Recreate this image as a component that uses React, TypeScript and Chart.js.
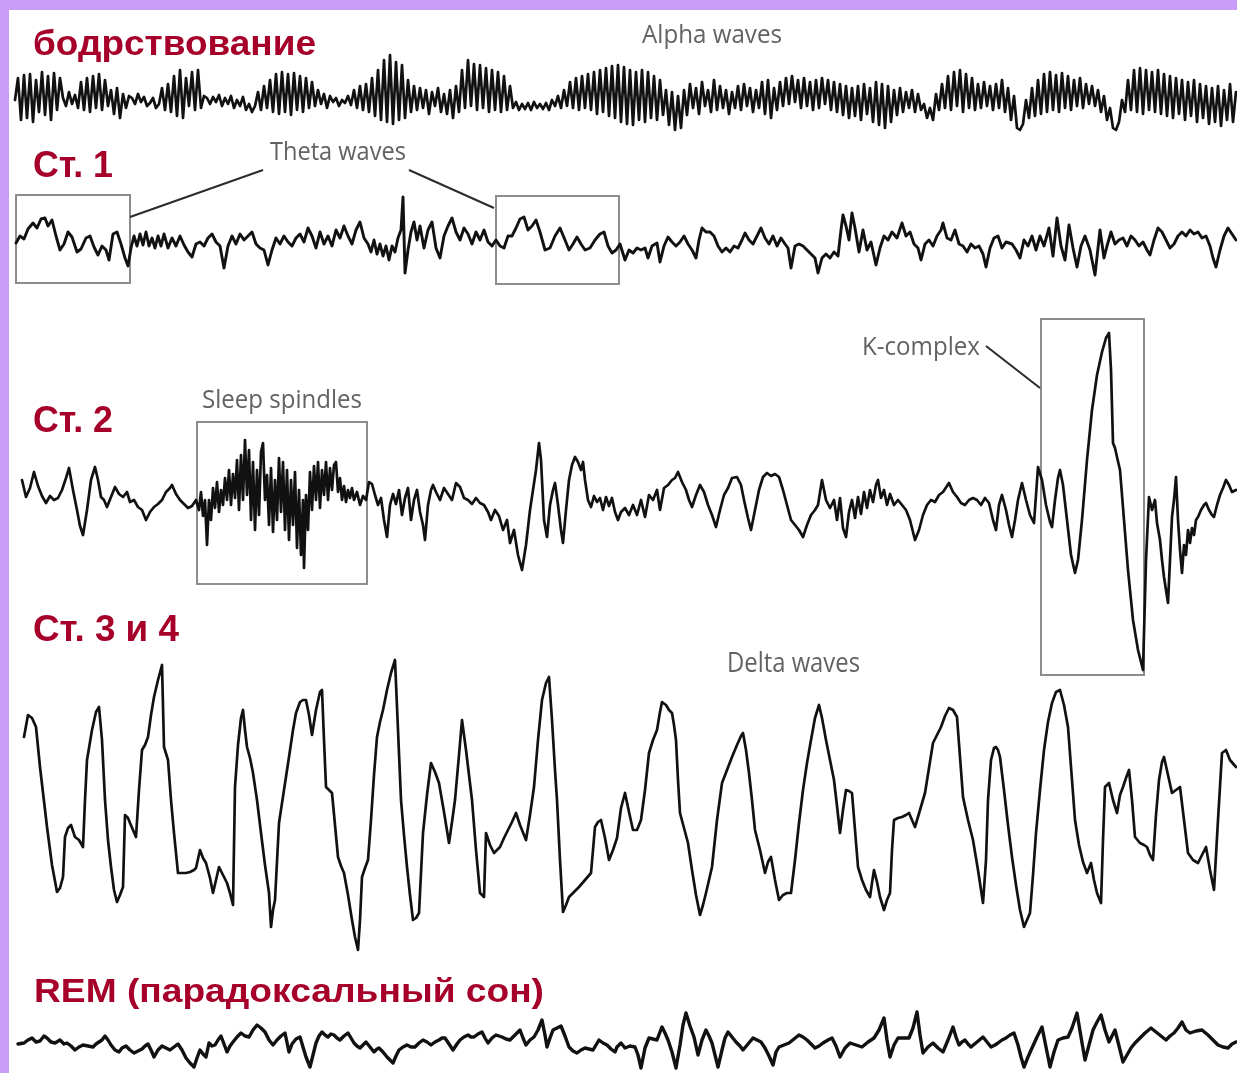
import React, { useEffect, useRef } from "react";
import { Chart, registerables } from "chart.js";

Chart.register(...registerables);

const W = 1237;
const H = 1073;

// ---- EEG traces (time in sample units, amplitude: positive = upward deflection) ----
const ALPHA_T0 = 15;
const ALPHA_DT = 3;
const ALPHA: number[] = [
  0, 22, -20, 25, -18, 26, -22, 20, -12, 28, -15, 24, -20, 27, -10, 22,
  2, -6, 8, -4, 5, -8, 18, -10, 22, -12, 24, -8, 26, -10, 20, -6,
  10, -14, 12, -18, 6, -8, 4, 2, -4, 6, -2, 3, -6, -3, 2, -8,
  -4, 12, -10, 16, -12, 24, -16, 30, -18, 22, -6, 28, -10, 30, -8, 4,
  2, -4, 3, -2, 5, -6, 2, -4, 4, -8, 0, -6, 3, -10, -4, -12,
  -6, 8, -10, 14, -8, 20, -12, 26, -14, 28, -12, 26, -15, 27, -10, 24,
  -12, 22, -8, 18, -6, 10, -4, 6, -8, 4, -2, 2, -6, 0, -3, 4,
  -5, 10, -8, 14, -10, 16, -12, 22, -16, 30, -20, 40, -22, 45, -24, 38,
  -20, 35, -18, 20, -12, 14, -10, 12, -8, 10, -14, 8, -6, 12, -12, 6,
  -14, 10, -18, 14, -12, 30, -8, 40, -6, 36, -10, 35, -8, 32, -12, 30,
  -10, 28, -12, 24, -10, 14, -8, -2, -10, -4, -9, -3, -10, -2, -8, -4,
  -9, -3, -10, 0, -6, 4, -8, 10, -6, 18, -8, 22, -10, 24, -8, 26,
  -10, 28, -14, 30, -12, 32, -16, 34, -18, 35, -22, 33, -24, 30, -25, 28,
  -20, 30, -22, 28, -18, 24, -20, 20, -15, 10, -25, 8, -30, 4, -28, 10,
  -15, 16, -8, 12, -14, 18, -6, 10, -12, 20, -10, 14, -8, 10, -14, 8,
  -8, 14, -10, 16, -6, 12, -12, 10, -8, 18, -14, 20, -18, 12, -10, 18,
  -6, 22, -4, 24, -2, 20, -8, 22, -6, 18, -10, 20, -8, 22, -4, 20,
  -10, 18, -12, 16, -15, 14, -18, 12, -16, 14, -20, 16, -14, 12, -22, 18,
  -25, 16, -28, 14, -22, 10, -15, 12, -12, 8, -8, 10, -12, 6, -10, -4,
  -18, -8, -20, 6, -10, 16, -8, 24, -10, 28, -6, 30, -12, 26, -8, 22,
  -10, 16, -8, 18, -6, 14, -10, 16, -8, 20, -12, 12, -20, 4, -28, -30,
  -24, 0, -18, 12, -16, 20, -14, 26, -12, 28, -10, 25, -12, 27, -8, 24,
  -10, 20, -6, 22, -8, 16, -4, 14, -6, 10, -12, 4, -20, -8, -28, -30,
  -22, 0, -12, 20, -10, 30, -12, 32, -14, 30, -10, 28, -12, 30, -14, 26,
  -16, 24, -18, 22, -14, 20, -20, 18, -16, 20, -22, 16, -18, 14, -24, 12,
  -22, 14, -26, 10, -20, 16, -22, 8,
];

const THETA: [number, number][] = [
  [16, -3], [20, 4], [24, 1], [28, 11], [33, 17], [37, 12], [41, 21], [45, 22], [48, 14], [52, 20],
  [56, 4], [60, -10], [64, -4], [68, 8], [72, 3], [77, -12], [81, -9], [86, 2], [90, 4], [94, -7],
  [98, -15], [102, -6], [106, -10], [109, -20], [113, 6], [117, 8], [121, -4], [125, -18], [128, -26],
  [131, -8], [134, 4], [137, -6], [140, 6], [143, -5], [146, 8], [149, -6], [152, 2], [155, -8],
  [158, 4], [161, -6], [164, 6], [168, -8], [172, 2], [176, -6], [180, 4], [184, -5], [188, -12],
  [192, -17], [196, -4], [200, -2], [204, -6], [208, 2], [212, 6], [216, -2], [220, -6], [224, -28],
  [228, -6], [232, 4], [236, -4], [240, 6], [244, 0], [248, 4], [252, 8], [256, -4], [260, -8],
  [264, -10], [268, -25], [272, -10], [276, 2], [280, -4], [284, 4], [288, -2], [292, -6], [296, 2],
  [300, 6], [304, -2], [308, 12], [312, 4], [316, -8], [320, 8], [324, -4], [328, 4], [332, -6],
  [336, 10], [340, 2], [344, 14], [348, 4], [352, -4], [356, 10], [360, 18], [364, 2], [368, -4],
  [371, -12], [374, 0], [377, -14], [380, -4], [383, -16], [386, -6], [389, -20], [392, -6], [395, -12],
  [398, 2], [401, 10], [403, 43], [405, -33], [408, -10], [411, 8], [414, 18], [417, 0], [420, 14],
  [424, -8], [428, 10], [432, 18], [436, -8], [440, -18], [444, 4], [448, 14], [452, 22], [456, 8],
  [460, 0], [464, 12], [468, 6], [472, -4], [476, 8], [480, 0], [484, 10], [488, -2], [492, -6],
  [496, 0], [500, -6], [504, -8], [508, 4], [512, 4], [516, 12], [520, 21], [524, 23], [528, 10],
  [532, 14], [536, 20], [540, 8], [545, -10], [550, -8], [555, 4], [560, 12], [565, 0], [569, -10],
  [573, -4], [577, 3], [581, -4], [585, -10], [590, -8], [595, 0], [600, 6], [604, 8], [608, -6],
  [612, -13], [616, -10], [620, -4], [625, -20], [629, -10], [633, -13], [637, -8], [641, -10],
  [645, -8], [648, -18], [652, -6], [657, -3], [660, -22], [664, -6], [668, 3], [672, -2], [676, -6],
  [680, -2], [684, 4], [688, -4], [692, -10], [696, -18], [699, 0], [702, 12], [706, 8], [710, 8],
  [714, 4], [718, -6], [722, -12], [726, -8], [730, -12], [734, -6], [738, -8], [742, 0], [745, 7],
  [749, 0], [753, -4], [757, 4], [761, 12], [765, 2], [769, -4], [773, 4], [777, -6], [781, 2],
  [785, -4], [788, -8], [791, -28], [795, -6], [799, -4], [803, -6], [807, -10], [811, -14],
  [815, -18], [818, -33], [822, -18], [826, -14], [830, -18], [834, -12], [838, -16], [841, 10],
  [843, 25], [846, 14], [849, 0], [852, 27], [855, 12], [859, -12], [863, 10], [867, -10], [871, -2],
  [876, -25], [880, -8], [884, 4], [888, 0], [892, 8], [897, 2], [902, 17], [906, 4], [910, 8],
  [914, -4], [918, -8], [921, -20], [925, -4], [929, 0], [933, -6], [937, 4], [941, 10], [943, 17],
  [947, 2], [951, 0], [955, 10], [959, -4], [963, -6], [967, -12], [971, -4], [975, -8], [979, -6],
  [983, -14], [986, -27], [990, -8], [994, 2], [998, 4], [1002, -8], [1006, -2], [1012, -4],
  [1016, -10], [1020, -18], [1024, 0], [1028, -6], [1032, 4], [1036, -10], [1040, 4], [1044, -6],
  [1049, 12], [1053, -16], [1057, 22], [1061, -6], [1065, -20], [1069, 15], [1073, -8], [1077, -27],
  [1081, -6], [1085, 4], [1090, -10], [1095, -35], [1100, 10], [1104, -18], [1107, -6], [1111, 8],
  [1115, -4], [1119, 0], [1123, 2], [1127, -6], [1131, 4], [1135, 0], [1139, -6], [1143, -2],
  [1147, -10], [1150, -15], [1154, 0], [1158, 12], [1162, 8], [1166, 0], [1170, -8], [1174, -4],
  [1178, 4], [1182, 8], [1186, 4], [1190, 10], [1194, 6], [1198, 8], [1202, 2], [1206, 4],
  [1210, -6], [1213, -18], [1216, -27], [1220, -10], [1224, 4], [1228, 12], [1232, 6], [1236, 0],
];

const STAGE2: [number, number][] = [
  [22, 20], [26, 3], [30, 12], [34, 28], [38, 14], [42, 4], [46, -3], [50, 4], [54, 0], [58, 2],
  [62, 10], [66, 22], [69, 32], [73, 10], [77, -10], [80, -26], [83, -35], [87, -10], [91, 20],
  [95, 33], [98, 20], [101, 3], [104, 0], [107, -7], [111, 3], [115, 13], [119, 6], [123, 3],
  [127, 8], [130, -2], [134, 0], [138, -7], [142, -10], [146, -20], [150, -12], [154, -7], [158, -4],
  [162, 0], [166, 8], [170, 12], [172, 15], [176, 6], [180, 0], [184, -4], [188, -8], [192, -6],
  [196, 0], [199, -10], [201, 8], [203, -16], [205, 0], [207, -45], [209, 0], [211, -20], [213, 12],
  [215, -8], [217, 18], [219, -12], [221, 10], [223, -5], [225, 22], [227, 0], [229, 30], [231, -5],
  [233, 26], [235, 2], [237, 40], [239, -10], [241, 45], [243, 0], [245, 60], [247, 5], [249, 50],
  [251, -20], [253, 38], [255, -30], [257, 30], [259, -15], [261, 48], [263, 57], [265, 0], [267, 25],
  [269, -25], [271, 32], [273, -32], [275, 20], [277, -20], [279, 42], [281, -12], [283, 38],
  [285, -30], [287, 30], [289, -40], [291, 20], [293, -25], [295, 28], [297, -48], [299, 10],
  [301, -55], [303, 0], [304, -68], [306, 5], [308, -30], [310, 28], [312, -10], [314, 34], [316, 0],
  [318, 38], [320, -8], [322, 30], [324, 5], [326, 38], [328, 0], [330, 32], [332, 10], [334, 35],
  [336, 38], [338, 8], [340, 22], [342, 0], [344, 14], [346, -2], [348, 10], [350, 2], [352, 12],
  [354, 0], [357, 8], [360, -5], [363, 4], [366, 0], [369, 18], [372, 16], [375, 5], [378, -5],
  [381, 2], [384, -20], [387, -37], [390, -5], [393, 6], [396, -4], [399, 10], [402, -15], [405, 2],
  [408, 12], [411, -20], [414, 0], [417, 10], [420, -12], [423, -25], [425, -40], [428, -5],
  [431, 10], [433, 15], [436, 8], [440, 0], [444, 12], [448, 6], [452, 0], [456, 17], [460, 13],
  [464, 2], [468, 0], [472, -4], [476, 2], [480, -3], [484, -5], [488, -12], [491, -20], [495, -10],
  [499, -16], [503, -30], [507, -20], [510, -43], [514, -30], [518, -55], [522, -70], [526, -45],
  [530, -10], [533, 10], [536, 30], [539, 57], [541, 40], [544, -20], [547, -37], [550, -5],
  [553, 10], [555, 17], [558, -5], [561, -30], [563, -43], [566, -10], [569, 20], [572, 35],
  [575, 43], [578, 38], [581, 30], [583, 38], [585, 20], [588, 0], [591, -7], [594, 4], [597, -2],
  [600, 2], [603, -10], [606, 3], [609, -6], [612, 2], [615, -12], [618, -20], [621, -12], [625, -8],
  [629, -15], [633, -5], [637, -15], [641, 0], [645, -17], [649, 5], [653, 0], [657, 10], [660, -10],
  [664, 12], [668, 15], [672, 20], [675, 22], [678, 28], [682, 18], [686, 10], [689, 0], [692, -7],
  [696, 5], [700, 15], [704, 8], [708, -5], [712, -15], [716, -27], [720, -10], [724, 5], [728, 12],
  [732, 22], [737, 23], [741, 15], [744, 0], [748, -18], [751, -30], [755, -10], [759, 10], [763, 23],
  [767, 27], [771, 24], [775, 26], [779, 23], [783, 10], [787, -5], [791, -20], [795, -25], [799, -30],
  [803, -37], [807, -25], [811, -15], [815, -10], [818, -5], [822, 20], [826, 0], [830, -8], [834, 0],
  [837, -20], [840, 2], [843, -28], [846, -37], [849, -12], [852, 0], [855, -18], [858, 3], [861, -14],
  [864, 8], [867, -8], [870, 10], [873, -2], [876, 15], [878, 20], [881, 2], [884, 10], [887, -5],
  [890, 6], [894, -5], [898, 0], [902, -5], [906, -10], [910, -20], [915, -40], [919, -30], [923, -15],
  [927, -5], [931, 0], [935, -2], [939, 5], [943, 8], [947, 14], [949, 17], [953, 8], [957, 3],
  [961, -3], [965, -5], [969, 0], [973, 2], [977, 0], [981, -5], [985, 2], [989, -3], [993, -20],
  [996, -30], [999, -5], [1002, 5], [1006, -10], [1009, -25], [1012, -37], [1015, -20], [1018, 0],
  [1022, 17], [1026, 0], [1030, -15], [1034, -23], [1038, 33], [1042, 20], [1046, -5], [1050, -22],
  [1052, -27], [1055, 0], [1058, 22], [1060, 30], [1063, 15], [1067, -20], [1071, -55], [1075, -73],
  [1078, -60], [1082, -20], [1087, 40], [1092, 90], [1097, 125], [1102, 148], [1106, 162], [1109, 167],
  [1111, 130], [1113, 57], [1115, 52], [1117, 43], [1120, 30], [1124, -20], [1128, -70], [1133, -120],
  [1138, -150], [1143, -170], [1146, -60], [1149, 3], [1152, -10], [1155, 0], [1157, -23], [1160, -40],
  [1162, -60], [1164, -77], [1166, -90], [1168, -103], [1170, -60], [1172, -17], [1174, 0], [1176, 23],
  [1178, -20], [1180, -50], [1182, -73], [1184, -45], [1186, -55], [1188, -30], [1190, -43],
  [1192, -28], [1194, -35], [1196, -20], [1198, -17], [1201, -10], [1204, -5], [1206, -3], [1209, -10],
  [1212, -15], [1214, -17], [1217, -5], [1220, 5], [1223, 12], [1226, 20], [1229, 15], [1232, 8],
  [1236, 10],
];

const DELTA: [number, number][] = [
  [24, 63], [28, 85], [32, 82], [36, 73], [40, 33], [47, -27], [52, -65], [57, -92], [60, -88],
  [63, -77], [65, -37], [68, -28], [71, -25], [75, -37], [79, -40], [83, -47], [85, 0], [87, 40],
  [92, 70], [96, 88], [99, 93], [102, 60], [105, 0], [108, -40], [111, -67], [114, -90], [117, -102],
  [120, -95], [123, -87], [125, -15], [128, -18], [130, -23], [133, -30], [136, -37], [139, 10],
  [142, 50], [145, 55], [148, 63], [151, 85], [154, 103], [158, 120], [162, 135], [164, 53], [168, 40],
  [171, 0], [174, -33], [178, -73], [182, -73], [186, -73], [190, -72], [194, -70], [196, -68],
  [200, -50], [203, -58], [206, -63], [210, -78], [213, -93], [216, -80], [219, -67], [223, -75],
  [227, -83], [230, -93], [233, -105], [235, 13], [238, 55], [241, 82], [243, 90], [245, 70],
  [247, 53], [250, 42], [253, 27], [257, 0], [261, -33], [265, -65], [269, -93], [271, -127],
  [273, -110], [275, -100], [279, -23], [284, 10], [289, 43], [293, 70], [296, 87], [300, 98],
  [303, 100], [306, 100], [309, 85], [312, 65], [316, 90], [320, 108], [322, 110], [324, 60],
  [326, 13], [329, 10], [332, 7], [335, -25], [338, -57], [341, -66], [344, -73], [348, -95],
  [352, -120], [355, -137], [358, -150], [360, -120], [362, -77], [365, -68], [368, -60], [371, -20],
  [374, 25], [377, 63], [380, 78], [383, 90], [387, 110], [391, 127], [395, 140], [398, 70], [401, 0],
  [404, -35], [407, -67], [410, -95], [413, -120], [416, -118], [419, -113], [423, -33], [427, 5],
  [431, 37], [435, 28], [439, 17], [444, -12], [449, -43], [452, -22], [455, 0], [459, 45], [462, 80],
  [466, 50], [469, 25], [472, 0], [476, -50], [480, -93], [484, -97], [486, -33], [490, -45],
  [494, -53], [497, -50], [500, -47], [504, -38], [508, -30], [512, -22], [516, -13], [520, -25],
  [526, -40], [530, -15], [534, 13], [538, 60], [542, 100], [546, 117], [549, 123], [552, 80],
  [555, 30], [557, 0], [560, -60], [563, -112], [566, -105], [569, -97], [574, -92], [579, -87],
  [585, -80], [591, -73], [595, -27], [598, -22], [601, -20], [605, -38], [609, -60], [613, -50],
  [617, -38], [621, -8], [625, 7], [629, -12], [633, -30], [637, -30], [641, -20], [645, 10],
  [649, 47], [653, 60], [657, 70], [660, 88], [662, 98], [666, 95], [669, 90], [672, 87], [674, 75],
  [676, 60], [678, 20], [680, -13], [684, -28], [688, -43], [692, -70], [696, -95], [700, -115],
  [703, -105], [706, -93], [709, -80], [712, -67], [717, -20], [722, 17], [727, 30], [732, 43],
  [737, 55], [741, 64], [743, 67], [746, 50], [749, 27], [752, 0], [755, -30], [760, -50], [765, -73],
  [768, -62], [771, -57], [775, -80], [779, -100], [783, -95], [787, -93], [791, -93], [795, -60],
  [799, -23], [803, 10], [807, 37], [811, 60], [815, 82], [819, 95], [822, 82], [826, 60], [830, 40],
  [834, 20], [837, -6], [840, -33], [843, -10], [846, 10], [849, 9], [852, 7], [855, -30], [858, -67],
  [862, -80], [866, -90], [870, -97], [872, -83], [874, -70], [877, -82], [880, -97], [884, -110],
  [887, -100], [890, -93], [892, -50], [894, -20], [898, -18], [902, -17], [906, -15], [909, -13],
  [912, -20], [915, -27], [920, -10], [925, 7], [929, 32], [933, 57], [937, 65], [941, 73], [945, 84],
  [949, 92], [953, 90], [957, 83], [960, 43], [963, 3], [968, -20], [973, -40], [978, -70],
  [983, -103], [986, -60], [988, 0], [991, 40], [994, 52], [996, 53], [998, 50], [1000, 43],
  [1004, 10], [1008, -25], [1012, -57], [1016, -85], [1020, -110], [1024, -127], [1027, -120],
  [1030, -113], [1033, -75], [1036, -33], [1040, 10], [1044, 50], [1048, 78], [1052, 97], [1056, 108],
  [1060, 110], [1064, 95], [1068, 73], [1072, 20], [1075, -20], [1079, -45], [1083, -62], [1087, -73],
  [1091, -63], [1094, -80], [1097, -93], [1101, -103], [1103, -40], [1105, 13], [1109, 17], [1113, 0],
  [1117, -13], [1120, 5], [1123, 13], [1126, 22], [1129, 30], [1132, 0], [1135, -37], [1140, -43],
  [1144, -45], [1147, -47], [1150, -55], [1153, -60], [1156, -15], [1159, 20], [1162, 38], [1164, 43],
  [1168, 25], [1172, 7], [1176, 10], [1180, 13], [1184, -20], [1188, -53], [1193, -60], [1198, -63],
  [1202, -55], [1206, -47], [1210, -70], [1214, -90], [1218, -20], [1222, 47], [1226, 50], [1230, 40],
  [1236, 33],
];

const REM: [number, number][] = [
  [18, 6], [24, 7], [28, 10], [32, 12], [36, 8], [40, 9], [44, 14], [47, 12], [51, 8], [55, 7],
  [60, 10], [64, 6], [67, 7], [71, 4], [75, 0], [79, 3], [83, 5], [88, 4], [93, 3], [96, 6], [99, 8],
  [102, 10], [105, 14], [108, 10], [111, 5], [115, 0], [119, -2], [122, 2], [126, 4], [130, 0],
  [134, -3], [138, -1], [142, 1], [145, 4], [148, 6], [151, 0], [154, -7], [158, 0], [162, 4],
  [166, 2], [170, 0], [174, 3], [178, 6], [182, 0], [186, -8], [190, -13], [194, -17], [197, -8],
  [200, 0], [203, -4], [206, -7], [209, 7], [212, 4], [215, 5], [218, 10], [221, 14], [224, 6],
  [227, -2], [230, 4], [233, 8], [237, 13], [241, 17], [245, 14], [249, 13], [253, 20], [257, 25],
  [261, 22], [265, 18], [269, 10], [273, 5], [277, 10], [281, 14], [285, 17], [289, -2], [292, 6],
  [296, 11], [300, 13], [303, 3], [306, -7], [310, -17], [313, -5], [316, 7], [319, 14], [322, 18],
  [325, 15], [328, 13], [331, 16], [334, 15], [337, 12], [340, 10], [344, 14], [348, 17], [351, 12],
  [354, 7], [357, 4], [360, 2], [363, 5], [366, 8], [370, 3], [374, -2], [377, 1], [379, 2], [383, -2],
  [387, -7], [390, -10], [393, -13], [396, -6], [399, 0], [403, 3], [407, 5], [411, 3], [415, 3],
  [419, 7], [423, 10], [427, 8], [431, 5], [435, 8], [439, 10], [442, 12], [445, 12], [449, 6],
  [453, 0], [457, 6], [460, 10], [464, 13], [468, 15], [471, 13], [474, 13], [478, 16], [482, 18],
  [485, 12], [488, 7], [492, 12], [496, 15], [499, 14], [502, 13], [506, 11], [510, 10], [515, 15],
  [520, 20], [523, 12], [526, 5], [530, 10], [534, 13], [538, 20], [542, 30], [545, 15], [547, 3],
  [550, 12], [553, 20], [557, 22], [561, 24], [565, 14], [569, 3], [573, -1], [577, -3], [581, 0],
  [585, 2], [589, 1], [593, 0], [596, 5], [599, 10], [603, 7], [607, 5], [611, 1], [615, -2], [617, 3],
  [621, 7], [625, 2], [630, 4], [635, 3], [638, -5], [641, -18], [645, 2], [649, 12], [653, 11],
  [657, 10], [660, 18], [662, 23], [665, 17], [668, 10], [672, -2], [676, -18], [680, 5], [683, 25],
  [686, 37], [690, 24], [694, 13], [698, -5], [702, 10], [706, 20], [709, 14], [712, 7], [715, -5],
  [718, -17], [722, 0], [725, 12], [728, 18], [732, 13], [736, 8], [740, 4], [743, 0], [748, 6],
  [753, 12], [757, 10], [761, 8], [765, 2], [769, -6], [773, -15], [776, -2], [779, 3], [784, 5],
  [789, 7], [794, 11], [799, 15], [803, 13], [807, 10], [811, 6], [815, 2], [819, 4], [823, 7],
  [828, 10], [832, 12], [836, 4], [840, -7], [845, 2], [850, 7], [856, 5], [862, 3], [868, 8],
  [874, 12], [879, 20], [884, 32], [887, 10], [890, -7], [894, 5], [898, 12], [903, 12], [909, 12],
  [913, 22], [917, 38], [920, 15], [923, -3], [928, 3], [933, 7], [938, 2], [943, -2], [948, 10],
  [953, 23], [956, 13], [959, 5], [962, 8], [965, 10], [968, 6], [971, 3], [977, 8], [983, 13],
  [987, 8], [991, 3], [995, 5], [998, 7], [1002, 10], [1006, 12], [1010, 15], [1014, 17], [1018, 5],
  [1021, -7], [1024, -17], [1028, -7], [1032, 2], [1037, 13], [1042, 23], [1046, 3], [1050, -17],
  [1054, -2], [1058, 10], [1063, 12], [1068, 13], [1072, 22], [1077, 37], [1081, 13], [1085, -10],
  [1089, 5], [1093, 20], [1097, 28], [1101, 35], [1105, 20], [1109, 8], [1112, 14], [1115, 20],
  [1119, 4], [1123, -12], [1127, -5], [1131, 2], [1135, 7], [1140, 12], [1145, 17], [1151, 22],
  [1156, 18], [1161, 14], [1166, 10], [1170, 14], [1174, 17], [1178, 22], [1182, 28], [1186, 20],
  [1190, 17], [1196, 19], [1202, 20], [1208, 15], [1213, 10], [1218, 5], [1223, 3], [1228, 2],
  [1232, 6], [1236, 8],
];

// ---- layout (baselines of each trace on the page, in y units) ----
const BASE: Record<string, number> = { alpha: 100, theta: 240, stage2: 500, delta: 800, rem: 1050 };

const PURPLE = "#c99cf7";
const RED = "#a6002a";
const GREY = "#626262";

const STAGE_LABELS = [
  { text: "бодрствование", x: 33, y: 55, w: 283, size: 35 },
  { text: "Ст. 1", x: 33, y: 177, w: 80, size: 37 },
  { text: "Ст. 2", x: 33, y: 432, w: 80, size: 37 },
  { text: "Ст. 3 и 4", x: 33, y: 641, w: 146, size: 37 },
  { text: "REM (парадоксальный сон)", x: 34, y: 1002, w: 510, size: 33 },
];

const WAVE_LABELS = [
  { text: "Alpha waves", x: 642, y: 43, w: 140, size: 25 },
  { text: "Theta waves", x: 270, y: 160, w: 136, size: 25 },
  { text: "Sleep spindles", x: 202, y: 408, w: 160, size: 26 },
  { text: "K-complex", x: 862, y: 355, w: 118, size: 25 },
  { text: "Delta waves", x: 727, y: 672, w: 133, size: 27 },
];

const BOXES = [
  { trace: "theta", t0: 16, t1: 130, top: 45, bottom: -43 },
  { trace: "theta", t0: 496, t1: 619, top: 44, bottom: -44 },
  { trace: "stage2", t0: 197, t1: 367, top: 78, bottom: -84 },
  { trace: "stage2", t0: 1041, t1: 1144, top: 181, bottom: -175 },
];

const CONNECTORS = [
  { trace: "theta", a: [263, 70], b: [130, 23] },
  { trace: "theta", a: [409, 70], b: [494, 32] },
  { trace: "stage2", a: [986, 154], b: [1040, 112] },
];

function toPoints(trace: string, pairs: [number, number][]) {
  return pairs.map(([t, v]) => ({ x: t, y: BASE[trace] - v }));
}

const SERIES = [
  { trace: "alpha", pts: ALPHA.map((v, i) => [ALPHA_T0 + i * ALPHA_DT, v] as [number, number]), width: 2.7 },
  { trace: "theta", pts: THETA, width: 2.9 },
  { trace: "stage2", pts: STAGE2, width: 2.7 },
  { trace: "delta", pts: DELTA, width: 2.7 },
  { trace: "rem", pts: REM, width: 3.4 },
];

function fitText(ctx: CanvasRenderingContext2D, s: string, x: number, y: number, w: number, font: string, color: string) {
  ctx.save();
  ctx.font = font;
  ctx.fillStyle = color;
  ctx.textBaseline = "alphabetic";
  ctx.textAlign = "left";
  const m = ctx.measureText(s).width || w;
  ctx.translate(x, y);
  ctx.scale(w / m, 1);
  ctx.fillText(s, 0, 0);
  ctx.restore();
}

const decor = {
  id: "decor",
  beforeDraw(chart: any) {
    const { ctx } = chart;
    ctx.save();
    ctx.fillStyle = "#ffffff";
    ctx.fillRect(0, 0, W, H);
    ctx.fillStyle = PURPLE;
    ctx.fillRect(0, 0, W, 10);
    ctx.fillRect(0, 0, 9, H);
    ctx.restore();
  },
  beforeDatasetsDraw(chart: any) {
    const { ctx } = chart;
    const xs = chart.scales.x;
    const ys = chart.scales.y;
    ctx.save();
    ctx.strokeStyle = "#8d8d8d";
    ctx.lineWidth = 2;
    BOXES.forEach((b) => {
      const x0 = xs.getPixelForValue(b.t0);
      const x1 = xs.getPixelForValue(b.t1);
      const y0 = ys.getPixelForValue(BASE[b.trace] - b.top);
      const y1 = ys.getPixelForValue(BASE[b.trace] - b.bottom);
      ctx.strokeRect(x0, y0, x1 - x0, y1 - y0);
    });
    ctx.restore();
  },
  afterDatasetsDraw(chart: any) {
    const { ctx } = chart;
    const xs = chart.scales.x;
    const ys = chart.scales.y;
    ctx.save();
    ctx.strokeStyle = "#2b2b2b";
    ctx.lineWidth = 2;
    CONNECTORS.forEach((c) => {
      ctx.beginPath();
      ctx.moveTo(xs.getPixelForValue(c.a[0]), ys.getPixelForValue(BASE[c.trace] - c.a[1]));
      ctx.lineTo(xs.getPixelForValue(c.b[0]), ys.getPixelForValue(BASE[c.trace] - c.b[1]));
      ctx.stroke();
    });
    ctx.restore();
    STAGE_LABELS.forEach((l) =>
      fitText(ctx, l.text, l.x, l.y, l.w, `bold ${l.size}px "Liberation Sans", Arial, sans-serif`, RED)
    );
    WAVE_LABELS.forEach((l) =>
      fitText(ctx, l.text, l.x, l.y, l.w, `${l.size}px "Open Sans", "DejaVu Sans", sans-serif`, GREY)
    );
  },
};

export default function App() {
  const ref = useRef<HTMLCanvasElement | null>(null);
  useEffect(() => {
    if (!ref.current) return;
    const chart = new Chart(ref.current, {
      type: "line",
      data: {
        datasets: SERIES.map((s) => ({
          label: s.trace,
          data: toPoints(s.trace, s.pts),
          borderColor: "#111111",
          borderWidth: s.width,
          pointRadius: 0,
          tension: 0,
          fill: false,
          borderJoinStyle: "round",
          borderCapStyle: "round",
          clip: false,
        })),
      },
      options: {
        responsive: false,
        animation: false,
        events: [],
        layout: { padding: 0 },
        plugins: { legend: { display: false }, tooltip: { enabled: false }, title: { display: false } },
        scales: {
          x: { type: "linear", min: 0, max: W, display: false },
          y: { type: "linear", min: 0, max: H, reverse: true, display: false },
        },
      },
      plugins: [decor],
    } as any);
    return () => chart.destroy();
  }, []);
  return (
    <div style={{ position: "fixed", left: 0, top: 0, width: W, height: H, background: "#fff" }}>
      <canvas ref={ref} width={W} height={H} style={{ display: "block" }} />
    </div>
  );
}
